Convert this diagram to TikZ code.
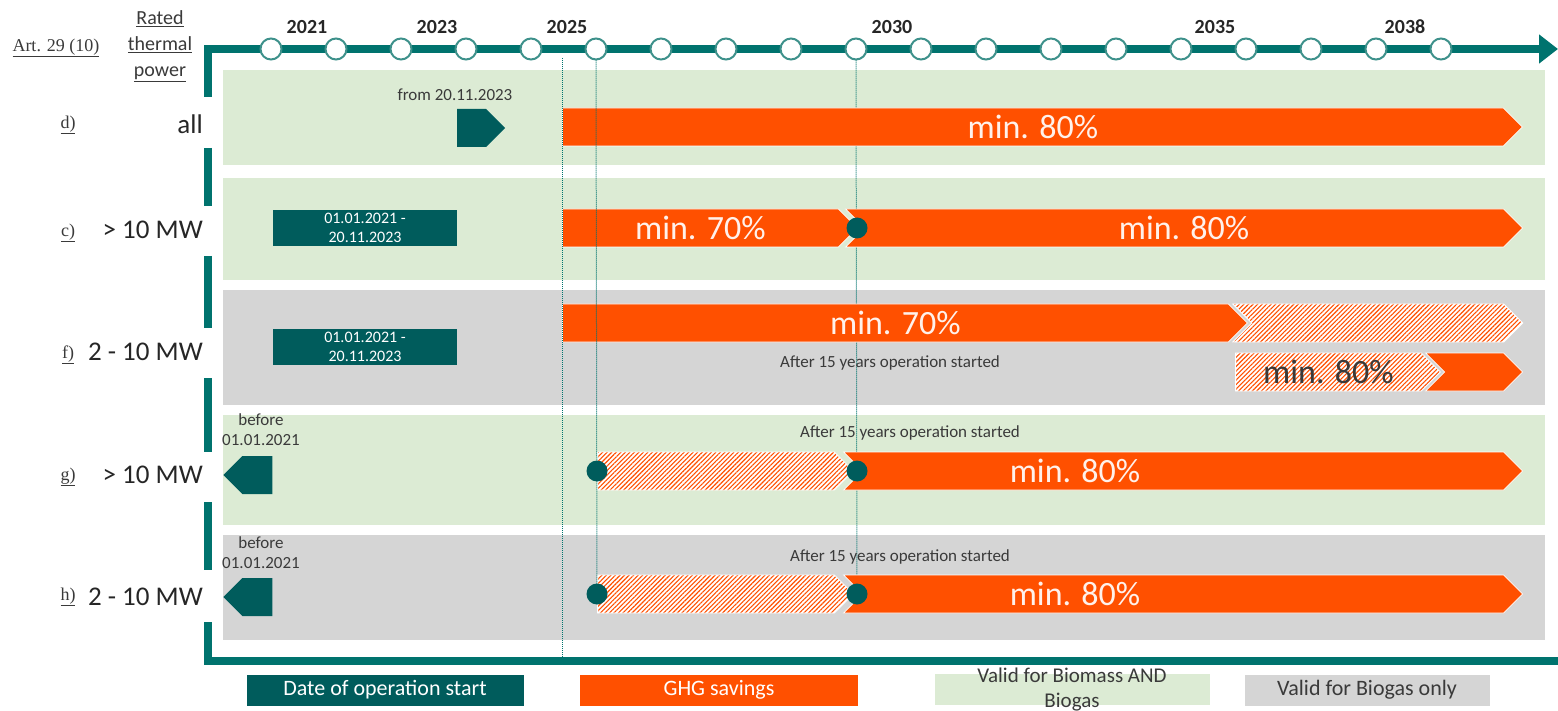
\documentclass[tikz,border=0pt]{standalone}
\usepackage{fontspec}
\setmainfont{Carlito}
\newfontfamily\artfont{Liberation Serif}
\usetikzlibrary{shapes.symbols,patterns.meta,arrows.meta}

\definecolor{tealline}{HTML}{00736E}
\definecolor{tealdark}{HTML}{005C5C}
\definecolor{tickline}{HTML}{3E918B}
\definecolor{ghgorange}{HTML}{FF5000}
\definecolor{biomassgreen}{HTML}{DCEBD4}
\definecolor{biogasgrey}{HTML}{D5D5D5}
\definecolor{textgrey}{HTML}{3A3A3A}

\begin{document}
\begin{tikzpicture}[
x=1pt, y=-1pt,
every node/.style={inner sep=0pt, text=textgrey, font=\fontsize{17}{20}\selectfont},
rowbox/.style={anchor=north west, minimum width=1322pt},
axis/.style={draw=tealline, line width=8pt},
tick/.style={circle, fill=white, draw=tickline, line width=2pt, minimum size=21pt},
year/.style={font=\bfseries\fontsize{20}{22}\selectfont, text=black!85},
rowname/.style={font=\artfont\fontsize{18}{20}\selectfont},
power/.style={anchor=east, font=\fontsize{27}{30}\selectfont, text=black!85},
bar/.style={signal, signal to=east, fill=ghgorange, draw=white, line width=0.8pt,
  minimum height=38pt, anchor=west, text=white!92!ghgorange,
  font=\fontsize{34}{38}\selectfont},
hatchbar/.style={signal, signal to=east, draw=white, line width=0.8pt,
  minimum height=38pt, anchor=west, font=\fontsize{34}{38}\selectfont,
  preaction={fill=white},
  pattern={Lines[angle=45,distance=3.2pt,line width=1.1pt]}, pattern color=ghgorange},
bigtext/.style={text=white!92!ghgorange, font=\fontsize{34}{38}\selectfont},
datebox/.style={fill=tealdark, text=white, align=center, minimum width=184pt,
  minimum height=36pt, font=\fontsize{16}{19}\selectfont},
startarrow/.style={signal, fill=tealdark, minimum height=38pt, anchor=west},
dot/.style={circle, fill=tealdark, minimum size=21pt},
guide/.style={draw=tealline, densely dotted, line width=1pt},
legend/.style={minimum height=31pt, font=\fontsize{22}{24}\selectfont}
]
\useasboundingbox (0,0) rectangle (1558,711);

% rows
\node[rowbox, fill=biomassgreen, minimum height=95pt] (rowd) at (223,70) {};
\node[rowbox, fill=biomassgreen, minimum height=102pt] (rowc) at (223,178) {};
\node[rowbox, fill=biogasgrey, minimum height=115pt] (rowf) at (223,290) {};
\node[rowbox, fill=biomassgreen, minimum height=110pt] (rowg) at (223,415) {};
\node[rowbox, fill=biogasgrey, minimum height=105pt] (rowh) at (223,535) {};

% time axis
\draw[axis, -{Triangle[length=19pt,width=28pt]}] (208,97) -- (208,49) -- (1558,49);
\draw[axis] (208,148) -- (208,206);
\draw[axis] (208,256) -- (208,328);
\draw[axis] (208,378) -- (208,452);
\draw[axis] (208,502) -- (208,570);
\draw[axis] (208,622) -- (208,661) -- (1558,661);

\foreach \i in {0,...,18}
  \node[tick] (t\i) at (271+65*\i,49) {};

\foreach \yr/\xx in {2021/307,2023/437,2025/567,2030/892,2035/1215,2038/1405}
  \node[year] (y\yr) at (\xx,27) {\yr};

\node[align=center, font=\fontsize{20}{26}\selectfont] (rated) at (160,46)
  {\underline{Rated}\\\underline{thermal}\\\underline{power}};
\node[rowname] (art) at (56,48) {\underline{Art. 29 (10)}};

% row labels
\node[rowname] (nd) at (68,125) {\underline{d)}};
\node[rowname] (nc) at (68,233) {\underline{c)}};
\node[rowname] (nf) at (68,355) {\underline{f)}};
\node[rowname] (ng) at (68,477) {\underline{g)}};
\node[rowname] (nh) at (68,597) {\underline{h)}};
\node[power] (pd) at (203,124) {all};
\node[power] (pc) at (203,230) {> 10 MW};
\node[power] (pf) at (203,352) {2 - 10 MW};
\node[power] (pg) at (203,475) {> 10 MW};
\node[power] (ph) at (203,597) {2 - 10 MW};

% markers
\coordinate (gtop) at (562,58);
\coordinate (gbot) at (562,661);
\coordinate (cmark) at (857,228);
\coordinate (gmark1) at (597,471);
\coordinate (gmark2) at (857,471);
\coordinate (hmark1) at (597,594);
\coordinate (hmark2) at (857,594);
\draw[guide] (t9.south) -- (hmark2);

% operation start
\node (from) at (455,95) {from 20.11.2023};
\node[startarrow, signal to=east, minimum width=48pt] (dstart) at (457,128) {};
\node[datebox] (cdate) at (365,228) {01.01.2021 -\\20.11.2023};
\node[datebox] (fdate) at (365,347) {01.01.2021 -\\20.11.2023};
\node[align=center] (gbefore) at (261,430) {before\\01.01.2021};
\node[startarrow, signal to=west, minimum width=49pt] (gstart) at (223,475) {};
\node[align=center] (hbefore) at (261,553) {before\\01.01.2021};
\node[startarrow, signal to=west, minimum width=49pt] (hstart) at (223,597) {};

% GHG savings
\node[bar, minimum width=960pt] (d80) at (562,127) {min. 80\%};
\node[bar, minimum width=295pt] (c70) at (562,228) {min. 70\%};
\node[bar, signal from=west, minimum width=677pt] (c80) at (864,228) {min. 80\%};
\node[bar, minimum width=685pt] (f70) at (562,323) {min. 70\%};
\node[hatchbar, signal from=west, minimum width=290pt] (f70h) at (1251,323) {};
\node (fafter) at (890,363) {After 15 years operation started};
\node[hatchbar, minimum width=205pt] (f80h) at (1235,372) {min. 80\%};
\node[bar, signal from=west, minimum width=97pt] (f80) at (1444,372) {};
\node (gafter) at (910,433) {After 15 years operation started};
\node[hatchbar, minimum width=256pt] (g70h) at (597,471) {};
\node[bar, signal from=west, minimum width=679pt] (g80) at (862,471) {};
\node[bigtext] (g80t) at (1075,471) {min. 80\%};
\node (hafter) at (900,557) {After 15 years operation started};
\node[hatchbar, minimum width=256pt] (h70h) at (597,594) {};
\node[bar, signal from=west, minimum width=679pt] (h80) at (862,594) {};
\node[bigtext] (h80t) at (1075,594) {min. 80\%};

\draw[guide] (gtop) -- (gbot);
\draw[guide] (t5.south) -- (hmark1);

\node[dot] (cdot) at (cmark) {};
\node[dot] (gdot1) at (gmark1) {};
\node[dot] (gdot2) at (gmark2) {};
\node[dot] (hdot1) at (hmark1) {};
\node[dot] (hdot2) at (hmark2) {};

% legend
\node[legend, fill=tealdark, text=white, minimum width=277pt] (lgdate) at (385,690) {Date of operation start};
\node[legend, fill=ghgorange, text=white, minimum width=278pt] (lgghg) at (719,690) {GHG savings};
\node[legend, fill=biomassgreen, minimum width=275pt] (lgboth) at (1072,689) {};
\node[align=center, font=\fontsize{21}{25}\selectfont] (lgbothtxt) at (1072,690) {Valid for Biomass AND\\Biogas};
\node[legend, fill=biogasgrey, minimum width=245pt] (lggas) at (1367,690) {Valid for Biogas only};

\end{tikzpicture}
\end{document}
